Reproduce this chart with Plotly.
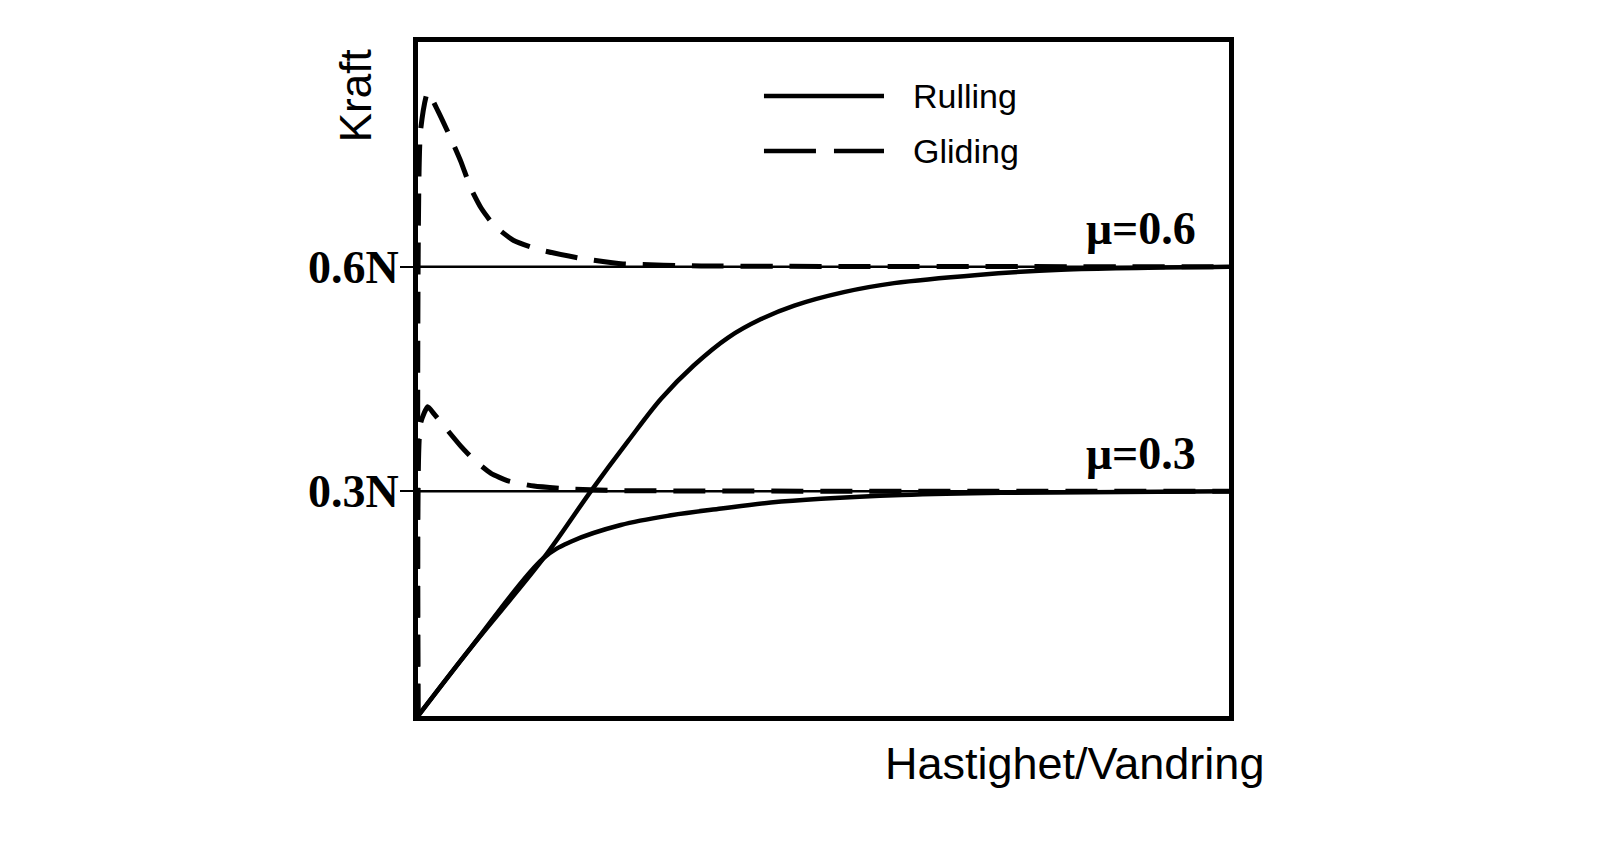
import plotly.graph_objects as go

# ---- data (x: arbitrary velocity/travel units 0..10, y: force as fraction of N) ----
rolling06_x = [0, 0.65, 1.55, 2.13, 2.59, 3.00, 3.40, 3.82, 4.23, 4.64, 5.25, 5.87, 6.90, 7.93, 10.0]
rolling06_y = [0, 0.091, 0.211, 0.300, 0.367, 0.424, 0.468, 0.505, 0.530, 0.548, 0.566, 0.578, 0.589, 0.596, 0.600]

rolling03_x = [0, 0.65, 1.55, 1.89, 2.50, 3.12, 3.74, 4.35, 4.97, 5.96, 7.19, 10.0]
rolling03_y = [0, 0.091, 0.211, 0.233, 0.255, 0.268, 0.277, 0.285, 0.290, 0.295, 0.298, 0.300]

gliding06_x = [0, 0.03, 0.12, 0.25, 0.41, 0.53, 0.65, 0.78, 0.94, 1.18, 1.52, 2.01, 2.50, 3.49, 10.0]
gliding06_y = [0, 0.78, 0.833, 0.807, 0.770, 0.740, 0.705, 0.678, 0.655, 0.635, 0.622, 0.611, 0.604, 0.601, 0.600]

gliding03_x = [0, 0.03, 0.12, 0.20, 0.53, 0.69, 0.90, 1.11, 1.43, 1.89, 2.50, 10.0]
gliding03_y = [0, 0.39, 0.413, 0.403, 0.360, 0.342, 0.324, 0.314, 0.307, 0.303, 0.301, 0.300]

mu_levels = [0.3, 0.6]
mu_labels = ["μ=0.3", "μ=0.6"]
tick_labels = ["0.3N", "0.6N"]
x_range = [0, 10]
y_range = [0, 0.9]

legend_names = ["Rulling", "Gliding"]
x_title = "Hastighet/Vandring"
y_title = "Kraft"

SANS = "Liberation Sans, Arial, sans-serif"
SERIF = "Liberation Serif, Times New Roman, serif"

fig = go.Figure()

# reference lines at mu*N
for lvl in mu_levels:
    fig.add_trace(go.Scatter(x=x_range, y=[lvl, lvl], mode="lines",
                             line=dict(color="black", width=2.5), showlegend=False, hoverinfo="skip"))

# rolling curves (solid)
for xs, ys in [(rolling06_x, rolling06_y), (rolling03_x, rolling03_y)]:
    fig.add_trace(go.Scatter(x=xs, y=ys, mode="lines",
                             line=dict(color="black", width=4.5, shape="spline", smoothing=1.0),
                             showlegend=False, hoverinfo="skip"))

# gliding curves (dashed)
for xs, ys in [(gliding06_x, gliding06_y), (gliding03_x, gliding03_y)]:
    fig.add_trace(go.Scatter(x=xs, y=ys, mode="lines",
                             line=dict(color="black", width=5, dash="32px,17px", shape="spline", smoothing=0.5),
                             showlegend=False, hoverinfo="skip"))

# mu labels
for lvl, lab in zip(mu_levels, mu_labels):
    fig.add_annotation(x=9.62, y=lvl + 0.051, xref="x", yref="y", text=lab, showarrow=False,
                       xanchor="right", yanchor="middle",
                       font=dict(family=SERIF, size=46, color="black", weight="bold"))

# custom legend (line samples + labels)
leg_y = [0.9199, 0.8383]
leg_dash = ["solid", "52px,18px"]
for yy, dsh, name in zip(leg_y, leg_dash, legend_names):
    fig.add_shape(type="line", xref="paper", yref="paper", x0=0.4266, x1=0.5746, y0=yy, y1=yy,
                  line=dict(color="black", width=4.5, dash=dsh))
    fig.add_annotation(x=0.608, y=yy, xref="paper", yref="paper", text=name, showarrow=False,
                       xanchor="left", yanchor="middle",
                       font=dict(family=SANS, size=34, color="black"))

# axis titles
fig.add_annotation(x=1.046, y=-0.07, xref="paper", yref="paper", text=x_title, showarrow=False,
                   xanchor="right", yanchor="middle", font=dict(family=SANS, size=45, color="black"))
fig.add_annotation(x=-0.076, y=0.92, xref="paper", yref="paper", text=y_title, showarrow=False,
                   textangle=-90, xanchor="center", yanchor="middle",
                   font=dict(family=SANS, size=44, color="black"))

fig.update_xaxes(range=x_range, showgrid=False, zeroline=False, showticklabels=False, ticks="",
                 showline=True, mirror=True, linecolor="black", linewidth=5)
fig.update_yaxes(range=y_range, showgrid=False, zeroline=False, tickvals=mu_levels, ticktext=tick_labels,
                 ticks="outside", ticklen=13, tickwidth=2, tickcolor="black", ticklabelstandoff=-8,
                 tickfont=dict(family=SERIF, size=46, color="black", weight="bold"),
                 showline=True, mirror=True, linecolor="black", linewidth=5)

fig.update_layout(width=1600, height=841, autosize=False,
                  margin=dict(l=410, r=379, t=34, b=133),
                  paper_bgcolor="white", plot_bgcolor="white", showlegend=False)

fig.write_html("out.html")
